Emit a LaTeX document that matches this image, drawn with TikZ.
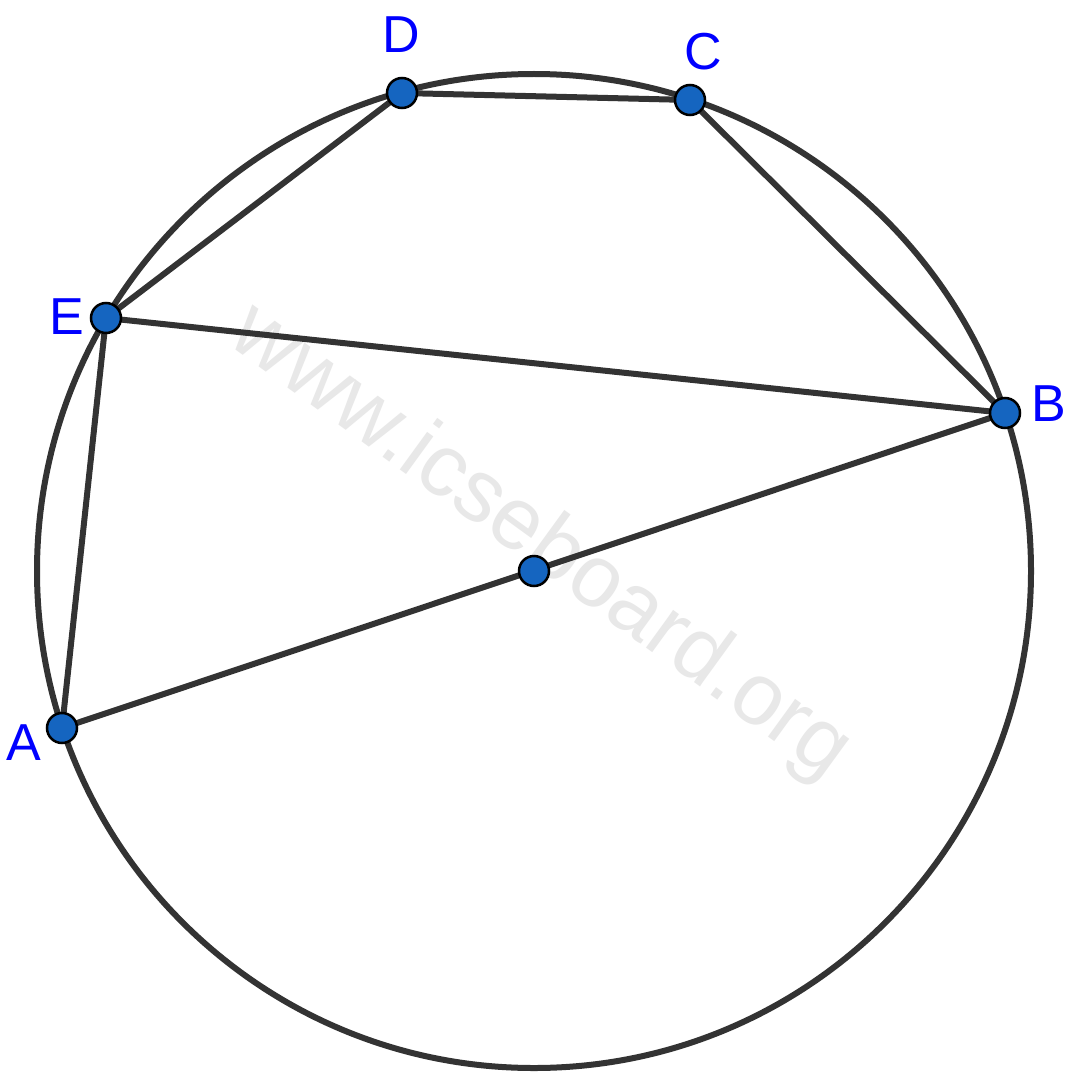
\documentclass[tikz,border=0pt]{standalone}
\usepackage{fontspec}
\setmainfont{Liberation Sans}
\definecolor{linec}{RGB}{51,51,51}
\definecolor{dotc}{RGB}{21,101,192}
\definecolor{labc}{RGB}{0,0,255}
\definecolor{wmc}{RGB}{232,232,232}
\begin{document}
\begin{tikzpicture}[x=1pt,y=-1pt,
  seg/.style={draw=linec,line width=6pt},
  ptdot/.style={circle,draw=black,fill=dotc,line width=2.5pt,minimum size=30pt,inner sep=0pt},
  lab/.style={text=labc,font=\fontsize{52}{52}\selectfont,inner sep=0pt}]
\useasboundingbox (0,0) rectangle (1075,1089);
\fill[white] (0,0) rectangle (1075,1089);
\node[text=wmc,font=\fontsize{88}{88}\selectfont,rotate=-36] (wm) at (540,543) {www.icseboard.org};
\coordinate (O) at (534,571);
\coordinate (A) at (62,728);
\coordinate (B) at (1005,413);
\coordinate (C) at (690,100);
\coordinate (D) at (402,93);
\coordinate (E) at (106,318);
\draw[linec,line width=6pt] (O) circle[radius=497];
\draw[seg] (A) -- (B);
\draw[seg] (E) -- (B);
\draw[seg] (C) -- (B);
\draw[seg] (D) -- (C);
\draw[seg] (E) -- (D);
\draw[seg] (A) -- (E);
\foreach \p in {O,A,B,C,D,E} \node[ptdot] (d\p) at (\p) {};
\node[lab] (lA) at (24,743) {A};
\node[lab] (lB) at (1049,404) {B};
\node[lab] (lC) at (703,52) {C};
\node[lab] (lD) at (401,35) {D};
\node[lab] (lE) at (67,317) {E};
\end{tikzpicture}
\end{document}
